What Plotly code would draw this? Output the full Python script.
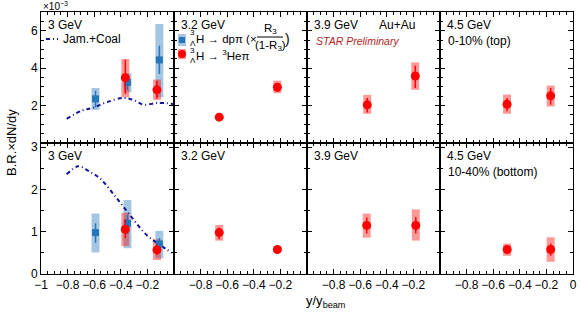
import plotly.graph_objects as go
from plotly.subplots import make_subplots

W, H = 581, 315
FONT = "Liberation Sans, Arial, Helvetica, sans-serif"

energy_labels = ["3 GeV", "3.2 GeV", "3.9 GeV", "4.5 GeV"]

# ---------------- 0-10% (top row), values x1e-3 ----------------
top_dppi_x = [-0.59, -0.35, -0.11]
top_dppi_y = [2.36, 3.24, 4.44]
top_dppi_stat_hi = [2.80, 3.60, 5.20]
top_dppi_stat_lo = [1.90, 2.84, 3.69]
top_dppi_sys_hi = [2.94, 3.72, 6.36]
top_dppi_sys_lo = [1.77, 2.71, 2.44]

top_hepi_x = [[-0.366, -0.128], [-0.66, -0.223], [-0.547, -0.186], [-0.496, -0.168]]
top_hepi_y = [[3.49, 2.84], [1.38, 2.98], [2.04, 3.58], [2.07, 2.52]]
top_hepi_stat_hi = [[4.45, 3.33], [1.46, 3.20], [2.40, 4.13], [2.40, 2.94]]
top_hepi_stat_lo = [[2.62, 2.36], [1.30, 2.75], [1.63, 2.94], [1.70, 2.05]]
top_hepi_sys_hi = [[4.49, 3.39], [1.50, 3.33], [2.57, 4.31], [2.59, 3.07]]
top_hepi_sys_lo = [[2.44, 2.30], [1.27, 2.66], [1.56, 2.84], [1.56, 1.95]]

top_jam_x = [-0.807, -0.694, -0.61, -0.506, -0.38, -0.306, -0.23, -0.12, -0.005]
top_jam_y = [1.29, 1.73, 1.88, 2.18, 2.41, 2.30, 2.05, 2.14, 2.09]

# ---------------- 10-40% (bottom row) ----------------
bot_dppi_x = [-0.59, -0.35, -0.11]
bot_dppi_y = [0.98, 1.20, 0.71]
bot_dppi_stat_hi = [1.20, 1.40, 0.85]
bot_dppi_stat_lo = [0.74, 0.95, 0.57]
bot_dppi_sys_hi = [1.43, 1.75, 1.02]
bot_dppi_sys_lo = [0.51, 0.61, 0.37]

bot_hepi_x = [[-0.366, -0.128], [-0.66, -0.223], [-0.551, -0.182], [-0.495, -0.168]]
bot_hepi_y = [[1.06, 0.57], [0.98, 0.58], [1.15, 1.15], [0.58, 0.58]]
bot_hepi_stat_hi = [[1.30, 0.70], [1.10, 0.62], [1.34, 1.35], [0.66, 0.72]]
bot_hepi_stat_lo = [[0.85, 0.45], [0.82, 0.54], [0.96, 0.96], [0.49, 0.43]]
bot_hepi_sys_hi = [[1.45, 0.82], [1.16, 0.64], [1.43, 1.53], [0.72, 0.87]]
bot_hepi_sys_lo = [[0.66, 0.33], [0.79, 0.52], [0.86, 0.79], [0.43, 0.29]]

bot_jam_x = [-0.807, -0.72, -0.644, -0.556, -0.44, -0.33, -0.205, -0.105, -0.017]
bot_jam_y = [2.36, 2.55, 2.44, 2.26, 1.83, 1.39, 0.92, 0.69, 0.50]

x_tickvals = [-1, -0.8, -0.6, -0.4, -0.2, 0]
x_ticktext = ["\u22121", "\u22120.8", "\u22120.6", "\u22120.4", "\u22120.2", "0"]
top_y_tickvals = [0, 2, 4, 6]
bot_y_tickvals = [0, 1, 2, 3]

BLUE = "rgb(38,118,186)"
BLUE_BOX = "rgba(38,118,186,0.42)"
RED = "rgb(255,0,0)"
RED_BOX = "rgba(255,0,0,0.40)"
NAVY = "rgb(20,20,150)"
JAM_DASH = "4px,3px,1px,3px"
SYS_W = 0.06

fig = make_subplots(rows=2, cols=4, horizontal_spacing=0, vertical_spacing=0)


def add_sys(x, lo, hi, color, r, c):
    fig.add_trace(go.Bar(x=x, y=[h - l for h, l in zip(hi, lo)], base=lo, width=SYS_W,
                         marker=dict(color=color, line=dict(width=0)), showlegend=False,
                         hoverinfo="skip"), row=r, col=c)


def add_pts(x, y, hi, lo, color, symbol, size, r, c):
    fig.add_trace(go.Scatter(x=x, y=y, mode="markers",
                             marker=dict(color=color, symbol=symbol, size=size, line=dict(width=0)),
                             error_y=dict(type="data", symmetric=False,
                                          array=[h - v for h, v in zip(hi, y)],
                                          arrayminus=[v - l for v, l in zip(y, lo)],
                                          color=color, thickness=1.5, width=0),
                             showlegend=False), row=r, col=c)


for r, (dx, dy, dsh, dsl, dyh, dyl, jx, jy) in enumerate([
        (top_dppi_x, top_dppi_y, top_dppi_stat_hi, top_dppi_stat_lo, top_dppi_sys_hi, top_dppi_sys_lo, top_jam_x, top_jam_y),
        (bot_dppi_x, bot_dppi_y, bot_dppi_stat_hi, bot_dppi_stat_lo, bot_dppi_sys_hi, bot_dppi_sys_lo, bot_jam_x, bot_jam_y)], start=1):
    fig.add_trace(go.Scatter(x=jx, y=jy, mode="lines", line=dict(color=NAVY, width=2, dash=JAM_DASH, shape="spline"),
                             showlegend=False), row=r, col=1)
    add_sys(dx, dyl, dyh, BLUE_BOX, r, 1)

for r, (hx, hy, hsh, hsl, hyh, hyl) in enumerate([
        (top_hepi_x, top_hepi_y, top_hepi_stat_hi, top_hepi_stat_lo, top_hepi_sys_hi, top_hepi_sys_lo),
        (bot_hepi_x, bot_hepi_y, bot_hepi_stat_hi, bot_hepi_stat_lo, bot_hepi_sys_hi, bot_hepi_sys_lo)], start=1):
    for c in range(4):
        add_sys(hx[c], hyl[c], hyh[c], RED_BOX, r, c + 1)

add_pts(top_dppi_x, top_dppi_y, top_dppi_stat_hi, top_dppi_stat_lo, BLUE, "square", 7, 1, 1)
add_pts(bot_dppi_x, bot_dppi_y, bot_dppi_stat_hi, bot_dppi_stat_lo, BLUE, "square", 7, 2, 1)

for r, (hx, hy, hsh, hsl) in enumerate([
        (top_hepi_x, top_hepi_y, top_hepi_stat_hi, top_hepi_stat_lo),
        (bot_hepi_x, bot_hepi_y, bot_hepi_stat_hi, bot_hepi_stat_lo)], start=1):
    for c in range(4):
        add_pts(hx[c], hy[c], hsh[c], hsl[c], RED, "circle", 9, r, c + 1)

# ---------------- axes ----------------
left0, pw = 41, 133
y_top = [(H - 143) / H, (H - 12) / H]
y_bot = [(H - 274) / H, (H - 143) / H]

axis_common = dict(showline=True, linecolor="black", linewidth=1, mirror="allticks",
                   ticks="inside", ticklen=5, tickcolor="black", tickwidth=1, automargin=False,
                   ticklabeloverflow="allow",
                   showgrid=False, zeroline=False, tickfont=dict(family=FONT, size=12, color="black"))

for r in range(2):
    for c in range(4):
        i = r * 4 + c + 1
        xa = "xaxis" if i == 1 else f"xaxis{i}"
        ya = "yaxis" if i == 1 else f"yaxis{i}"
        if r == 1:
            txt_ = []
            for v, t in zip(x_tickvals, x_ticktext):
                if v == -1 and c != 0:
                    txt_.append("")
                elif v == 0 and c != 3:
                    txt_.append("")
                else:
                    txt_.append(t)
        else:
            txt_ = [""] * len(x_tickvals)
        fig.layout[xa].update(domain=[(left0 + pw * c) / W, (left0 + pw * (c + 1)) / W],
                              range=[-1, 0], tickmode="array", tickvals=x_tickvals, ticktext=txt_,
                              minor=dict(tickmode="linear", tick0=0, dtick=0.05, ticks="inside",
                                         ticklen=3, tickcolor="black"),
                              **axis_common)
        if r == 0:
            yv = top_y_tickvals
            ytxt = ["", "2", "4", "6"] if c == 0 else [""] * 4
            yr = [0, 7]
            dom = y_top
        else:
            yv = bot_y_tickvals
            ytxt = ["0", "1", "2", "3"] if c == 0 else [""] * 4
            yr = [0, 3.1]
            dom = y_bot
        fig.layout[ya].update(domain=dom, range=yr, tickmode="array", tickvals=yv, ticktext=ytxt,
                              minor=dict(tickmode="linear", tick0=0, dtick=0.5, ticks="inside",
                                         ticklen=3, tickcolor="black"),
                              **axis_common)


# ---------------- text ----------------
def P(px, py):
    return px / W, 1 - py / H


anns = []


def txt(px, py, s, size=12, color="black", xanchor="left", italic=False, angle=0):
    x, y = P(px, py)
    anns.append(dict(x=x, y=y, xref="paper", yref="paper", text=s, showarrow=False,
                     xanchor=xanchor, yanchor="middle", textangle=angle,
                     font=dict(family=FONT, size=size, color=color,
                               style="italic" if italic else "normal")))


for c, lab in enumerate(energy_labels):
    txt(46 + pw * c, 25, lab)
    txt(46 + pw * c, 156, lab)
txt(61, 39, "Jam.+Coal")
txt(377, 25, "Au+Au")
txt(314, 41, "STAR Preliminary", size=10.5, color="rgb(178,30,30)", italic=True)
txt(446, 41, "0-10% (top)")
txt(446, 172, "10-40% (bottom)")
txt(41, 6, "\u00d710<sup>\u22123</sup>", size=10)
txt(12, 143, "B.R.\u00d7dN/dy", size=13, xanchor="center", angle=-90)
txt(325, 301, "y/y<sub>beam</sub>", size=13, xanchor="center")

# legend entries (panel 2)
txt(188, 33, "3", size=8)
txt(188, 44, "\u039b", size=8)
txt(194, 39, "H \u2192 dp\u03c0 (\u00d7", size=11.5)
txt(270, 29, "R<sub>3</sub>", xanchor="center", size=11.5)
txt(270, 46, "(1-R<sub>3</sub>)", xanchor="center", size=11.5)
txt(283, 39, ")", size=14)
txt(188, 50, "3", size=8)
txt(188, 60, "\u039b", size=8)
txt(194, 55, "H \u2192 <sup>3</sup>He\u03c0", size=11.5)

shapes = []
x0, y0 = P(257, 37)
x1, _ = P(283, 37)
shapes.append(dict(type="line", xref="paper", yref="paper", x0=x0, x1=x1, y0=y0, y1=y0,
                   line=dict(color="black", width=1)))
a0, b0 = P(46, 39)
a1, _ = P(58, 39)
shapes.append(dict(type="line", xref="paper", yref="paper", x0=a0, x1=a1, y0=b0, y1=b0,
                   line=dict(color=NAVY, width=2, dash=JAM_DASH)))
for (px0, py0, px1, py1, col) in [(178, 34, 186, 46, BLUE_BOX), (179, 37, 185, 43, BLUE),
                                   (178, 49, 186, 59, RED_BOX)]:
    u0, v0 = P(px0, py1)
    u1, v1 = P(px1, py0)
    shapes.append(dict(type="rect", xref="paper", yref="paper", x0=u0, x1=u1, y0=v0, y1=v1,
                       fillcolor=col, line=dict(width=0)))
u0, v0 = P(178, 58)
u1, v1 = P(186, 50)
shapes.append(dict(type="circle", xref="paper", yref="paper", x0=u0, x1=u1, y0=v0, y1=v1,
                   fillcolor=RED, line=dict(width=0)))

fig.update_layout(width=W, height=H, margin=dict(l=0, r=0, t=0, b=0),
                  paper_bgcolor="white", plot_bgcolor="white", barmode="overlay",
                  showlegend=False, annotations=anns, shapes=shapes,
                  font=dict(family=FONT, size=12, color="black"))

fig.write_html("out.html", config={"displayModeBar": False},
               post_script="document.body.style.margin='0';document.body.style.overflow='hidden';")
